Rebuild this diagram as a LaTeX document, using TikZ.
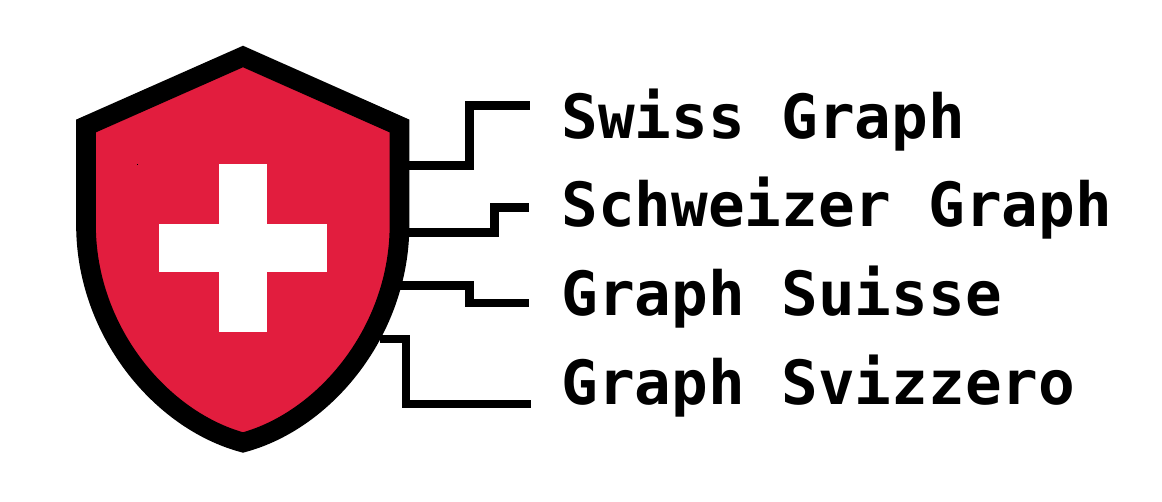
\documentclass[tikz,border=0pt]{standalone}
\usepackage{fontspec}
\setmonofont{DejaVu Sans Mono}
\definecolor{shieldred}{RGB}{226, 29, 62}
\tikzset{
  shield/.style = {draw = black, fill = shieldred, line width = 11.2pt, miter limit = 10},
  wire/.style = {draw = black, line width = 5.1pt},
  graphname/.style = {anchor = base west, inner sep = 0pt, font = \fontsize{34.7pt}{36pt}\ttfamily\bfseries}
}
\begin{document}
\begin{tikzpicture}[x = 0.02cm, y = -0.02cm]
\useasboundingbox (0, 0) rectangle (1162, 501);

% shield
\draw[shield] (243, 56.5) -- (399.5, 126) -- (399.5, 225)
  .. controls (399.5, 330) and (326, 420) .. (243, 442.5)
  .. controls (160, 420) and (86, 330) .. (86, 225) -- (86, 126) -- cycle;
\fill[white] (219, 164) rectangle (267, 332);
\fill[white] (159, 224) rectangle (327, 272);
\fill[black] (136.5, 163.5) rectangle (137.8, 164.8);

% labels
\node[graphname] (swiss) at (561, 138.5) {Swiss Graph};
\node[graphname] (schweizer) at (561, 226.5) {Schweizer Graph};
\node[graphname] (suisse) at (561, 315.5) {Graph Suisse};
\node[graphname] (svizzero) at (561, 404.5) {Graph Svizzero};

% connectors
\coordinate (swissa) at (405, 165.5);
\coordinate (swissb) at (530, 105.7);
\coordinate (schweizera) at (405, 232.3);
\coordinate (schweizerb) at (529, 207.3);
\coordinate (suissea) at (395, 285.5);
\coordinate (suisseb) at (529, 303);
\coordinate (svizzeroa) at (380, 339);
\coordinate (svizzerob) at (531, 404);
\draw[wire] (swissa) -| (469.5, 135) |- (swissb);
\draw[wire] (schweizera) -| (494.7, 220) |- (schweizerb);
\draw[wire] (suissea) -| (469.5, 295) |- (suisseb);
\draw[wire] (svizzeroa) -| (406, 370) |- (svizzerob);
\end{tikzpicture}
\end{document}
